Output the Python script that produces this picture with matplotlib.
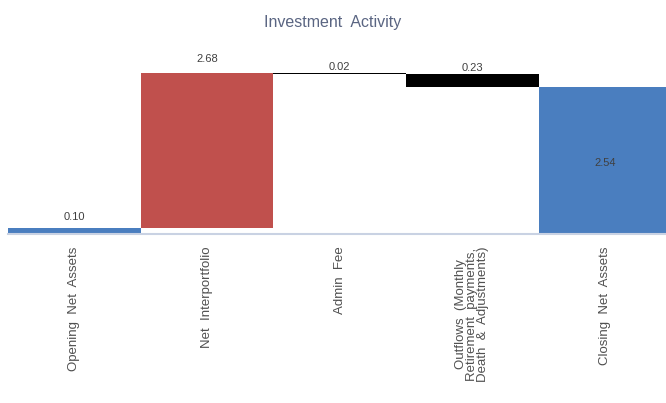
import numpy as np
import matplotlib
matplotlib.use('Agg')
import matplotlib.pyplot as plt

plt.rcParams['font.family'] = 'Liberation Sans'

categories = ['Opening  Net  Assets', 'Net  Interportfolio', 'Admin  Fee',
              'Outflows  (Monthly\nRetirement  payments,\nDeath  &  Adjustments)',
              'Closing  Net  Assets']
changes = [0.10, 2.68, -0.02, -0.23, 2.54]
kinds = ['total', 'up', 'down', 'down', 'total']
labels = ['0.10', '2.68', '0.02', '0.23', '2.54']

colors = {'total': '#4a7ebf', 'up': '#c0504d', 'down': '#000000'}

# waterfall bottoms / heights
bottoms = []
heights = []
running = 0.0
for c, k in zip(changes, kinds):
    if k == 'total':
        bottoms.append(0.0)
        heights.append(c)
        running = c
    elif k == 'up':
        bottoms.append(running)
        heights.append(c)
        running += c
    else:
        bottoms.append(running + c)
        heights.append(-c)
        running += c

fig = plt.figure(figsize=(6.66, 4.03), dpi=100)
ax = fig.add_axes([8/666, 169/403, 1 - 8/666, 194/403])

x = np.arange(len(categories))
for i in range(len(x)):
    ax.bar(x[i], heights[i], bottom=bottoms[i], width=1.0,
           color=colors[kinds[i]], linewidth=0)

label_gap = [0.1, 0.15, 0.02, 0.02]
for i in range(len(x)):
    top = bottoms[i] + heights[i]
    if i == len(x) - 1:
        ax.text(x[i], heights[i] / 2 - 0.05, labels[i], ha='center', va='center',
                fontsize=8, color='#404040')
    else:
        ax.text(x[i], top + label_gap[i], labels[i], ha='center', va='bottom',
                fontsize=8, color='#404040')

ax.set_xlim(-0.5, 4.46)
ax.set_ylim(0, 3.35)
ax.set_yticks([])
ax.set_xticks(x)
ax.set_xticklabels(categories, rotation=90, va='top', ha='center',
                   fontsize=9.5, color='#505050', linespacing=0.9)
ax.tick_params(axis='x', length=0, pad=9)
for s in ['top', 'right', 'left']:
    ax.spines[s].set_visible(False)
ax.spines['bottom'].set_color('#c9d2e3')
ax.spines['bottom'].set_linewidth(1.5)

fig.text(0.5, 1 - 22/403, 'Investment  Activity', ha='center', va='center',
         fontsize=11.5, color='#5a6582')

fig.savefig('out.png', dpi=100)
